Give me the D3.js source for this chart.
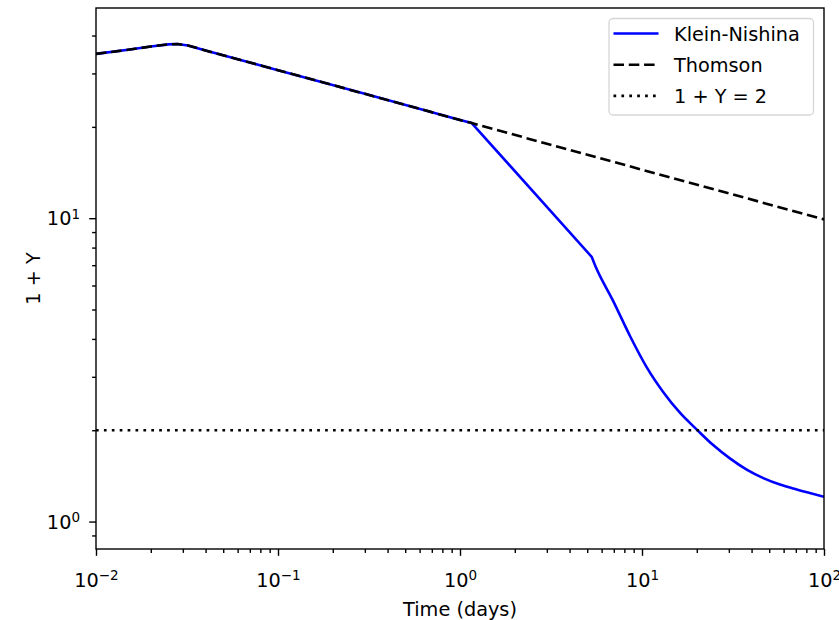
<!DOCTYPE html>
<html><head><meta charset="utf-8">
<script src="https://cdn.jsdelivr.net/npm/d3@7"></script>
<style>body{margin:0;background:#fff}svg{display:block}text{font-family:"DejaVu Sans",sans-serif}</style>
</head><body><svg id="c" width="839" height="620"></svg>
<script>
// Data (time in days, 1+Y)
const thomsonT = [0.01, 0.015, 0.02, 0.025, 0.028, 0.032, 0.04, 0.07, 0.1, 0.3, 1, 1.16, 3, 10, 30, 100];
const thomsonY = [34.8, 35.9, 36.8, 37.4, 37.5, 37.1, 35.7, 32.6, 30.75, 25.7, 21.08, 20.58, 17.6, 14.45, 12.07, 9.91];
const knT = [0.01, 0.015, 0.02, 0.025, 0.028, 0.032, 0.04, 0.07, 0.1, 0.3, 1, 1.16, 5.29, 5.52, 6.95, 8.59, 10.6, 13.1, 16.2, 20.0, 24.6, 30.4, 37.6, 46.4, 57.3, 70.8, 100];
const knY = [34.8, 35.9, 36.8, 37.4, 37.5, 37.1, 35.7, 32.6, 30.75, 25.7, 21.08, 20.58, 7.46, 7.0, 5.33, 4.09, 3.23, 2.67, 2.28, 2.01, 1.787, 1.615, 1.483, 1.391, 1.324, 1.275, 1.207];
const knBreakIndex = 12; // last straight point before the smooth tail
const thresholdY = 2;
const xTickExps = [-2, -1, 0, 1, 2];
const yTickExps = [0, 1];
const legendLabels = ["Klein-Nishina", "Thomson", "1 + Y = 2"];

const svg = d3.select("#c");
const L = 96, R = 824, T = 8, B = 549;
const x = d3.scaleLog().domain([0.01, 100]).range([L, R]);
const y = d3.scaleLog().domain([0.812, 49.3]).range([B, T]);
const lw = 2.6, FS = 19.3;
const dashA = "10.5,4.8", dotA = "2.7,5.2";

svg.append("clipPath").attr("id", "pc").append("rect")
  .attr("x", L).attr("y", T).attr("width", R - L).attr("height", B - T);
const g = svg.append("g").attr("clip-path", "url(#pc)");

const line = d3.line().x(d => x(d[0])).y(d => y(d[1]));
const lineSmooth = d3.line().x(d => x(d[0])).y(d => y(d[1])).curve(d3.curveMonotoneX);
const knPts = knT.map((t, i) => [t, knY[i]]);
const headD = line(knPts.slice(0, knBreakIndex + 1));
const tailD = lineSmooth(knPts.slice(knBreakIndex));
g.append("path").attr("d", headD + "L" + tailD.slice(1))
  .attr("fill", "none").attr("stroke", "#0000ff").attr("stroke-width", lw).attr("stroke-linejoin", "round");
g.append("path").datum(thomsonT.map((t, i) => [t, thomsonY[i]]))
  .attr("d", line).attr("fill", "none").attr("stroke", "#000").attr("stroke-width", lw)
  .attr("stroke-dasharray", dashA);
g.append("line").attr("x1", L).attr("x2", R).attr("y1", y(thresholdY)).attr("y2", y(thresholdY))
  .attr("stroke", "#000").attr("stroke-width", lw).attr("stroke-dasharray", dotA);

// axes
function sup(sel, base, exp) {
  sel.text(null);
  sel.append("tspan").text(base);
  sel.append("tspan").attr("dy", "-0.5em").attr("font-size", "70%").text(exp);
}
const fmtExp = e => (e < 0 ? "\u2212" + (-e) : "" + e);
const xMajor = xTickExps.map(e => Math.pow(10, e));
const xMinor = [];
for (let e = -2; e < 2; e++) for (let k = 2; k <= 9; k++) xMinor.push(k * Math.pow(10, e));
const xAx = svg.append("g").attr("transform", `translate(0,${B})`)
  .call(d3.axisBottom(x).tickValues(xMajor).tickSize(6.8).tickPadding(6.8).tickFormat(""));
xAx.selectAll(".tick text").each(function(d, i) {
  const s = d3.select(this).attr("font-size", FS).attr("fill", "#000").attr("dy", null)
    .attr("y", 38);
  sup(s, "10", fmtExp(xTickExps[i]));
});
svg.append("g").attr("transform", `translate(0,${B})`)
  .call(d3.axisBottom(x).tickValues(xMinor).tickSize(3.9).tickFormat(""))
  .call(s => s.select(".domain").remove());

const yMajor = yTickExps.map(e => Math.pow(10, e));
const yMinor = [0.9, 2, 3, 4, 5, 6, 7, 8, 9, 20, 30, 40];
const yAx = svg.append("g").attr("transform", `translate(${L},0)`)
  .call(d3.axisLeft(y).tickValues(yMajor).tickSize(6.8).tickPadding(6.8).tickFormat(""));
yAx.selectAll(".tick text").each(function(d, i) {
  const s = d3.select(this).attr("font-size", FS).attr("fill", "#000").attr("x", -16).attr("dy", "0.35em");
  sup(s, "10", "" + yTickExps[i]);
});
svg.append("g").attr("transform", `translate(${L},0)`)
  .call(d3.axisLeft(y).tickValues(yMinor).tickSize(3.9).tickFormat(""))
  .call(s => s.select(".domain").remove());
svg.selectAll(".domain").remove();
svg.selectAll(".tick line").attr("stroke", "#000").attr("stroke-width", 1.4);

// frame
svg.append("rect").attr("x", L).attr("y", T).attr("width", R - L).attr("height", B - T)
  .attr("fill", "none").attr("stroke", "#000").attr("stroke-width", 1.4);

// labels
svg.append("text").attr("x", (L + R) / 2).attr("y", 616).attr("text-anchor", "middle")
  .attr("font-size", FS).text("Time (days)");
svg.append("text").attr("transform", `translate(40,${(T + B) / 2}) rotate(-90)`)
  .attr("text-anchor", "middle").attr("font-size", FS).text("1 + Y");

// legend
const lg = svg.append("g");
lg.append("rect").attr("x", 609).attr("y", 18.5).attr("width", 204.5).attr("height", 96.5).attr("rx", 4)
  .attr("fill", "#fff").attr("fill-opacity", 0.8).attr("stroke", "#d6d6d6").attr("stroke-width", 1.3);
const styles = [
  {c: "#0000ff", d: null},
  {c: "#000", d: dashA},
  {c: "#000", d: dotA}
];
legendLabels.forEach((lab, i) => {
  const yy = 33.5 + i * 31.2;
  lg.append("line").attr("x1", 613.5).attr("x2", 658.5).attr("y1", yy).attr("y2", yy)
    .attr("stroke", styles[i].c).attr("stroke-width", lw).attr("stroke-dasharray", styles[i].d);
  lg.append("text").attr("x", 674).attr("y", yy + 7).attr("font-size", FS).attr("fill", "#000").text(lab);
});
</script></body></html>
